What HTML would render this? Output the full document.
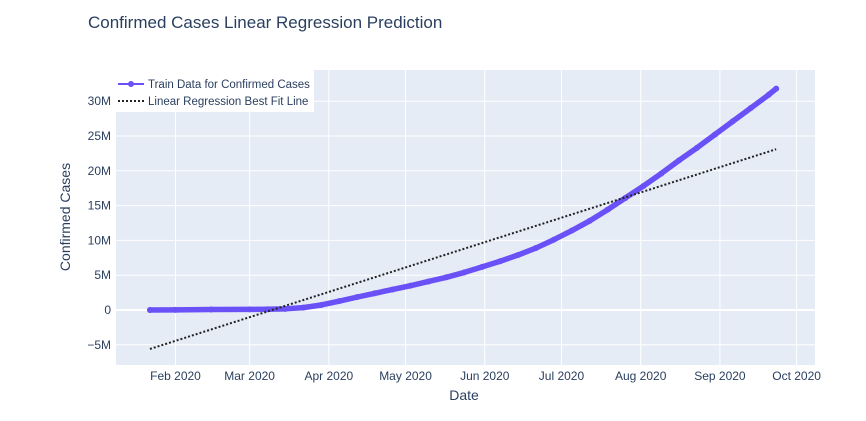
<!DOCTYPE html>
<html><head><meta charset="utf-8"><style>
body{margin:0;background:#fff;font-family:"Liberation Sans",sans-serif}
svg text{font-family:"Liberation Sans",sans-serif;fill:#2a3f5f}
</style></head><body>
<svg id="chart" width="866" height="416">
<text x="88" y="28" font-size="17">Confirmed Cases Linear Regression Prediction</text>
<rect x="116" y="70" width="699" height="295" fill="#e5ecf6"/>
<g id="grid"></g><g id="marks"></g>
<text x="464" y="400" font-size="14" text-anchor="middle">Date</text>
<text transform="translate(70,217) rotate(-90)" font-size="14" text-anchor="middle">Confirmed Cases</text>
<g>
<rect x="116" y="70" width="198" height="42" fill="#fff"/>
<line x1="118" y1="84" x2="144" y2="84" stroke="#6a50f7" stroke-width="2"/>
<circle cx="131" cy="84" r="3" fill="#6a50f7"/>
<text x="148" y="88" font-size="11.5">Train Data for Confirmed Cases</text>
<line x1="118" y1="101" x2="144" y2="101" stroke="#222" stroke-width="2" stroke-dasharray="2,2"/>
<text x="148" y="105" font-size="11.5">Linear Regression Best Fit Line</text>
</g>
</svg>
<script>
const trainDates=["2020-01-22","2020-02-01","2020-02-15","2020-03-01","2020-03-08","2020-03-15","2020-03-22","2020-03-29","2020-04-05","2020-04-12","2020-04-19","2020-04-26","2020-05-03","2020-05-10","2020-05-17","2020-05-24","2020-05-31","2020-06-07","2020-06-14","2020-06-21","2020-06-28","2020-07-05","2020-07-12","2020-07-19","2020-07-26","2020-08-02","2020-08-09","2020-08-16","2020-08-23","2020-08-30","2020-09-06","2020-09-13","2020-09-20","2020-09-23"];
const trainValues=[0.0005,0.012,0.069,0.088,0.11,0.17,0.34,0.72,1.27,1.85,2.4,2.95,3.5,4.1,4.7,5.4,6.2,7.0,7.9,8.9,10.1,11.4,12.8,14.4,16.1,17.8,19.6,21.5,23.3,25.2,27.1,29.0,30.9,31.8];
const fitDates=["2020-01-22","2020-09-23"];
const fitValues=[-5.6,23.1];
const yTicks=[-5,0,5,10,15,20,25,30];
const xTickDates=["2020-02-01","2020-03-01","2020-04-01","2020-05-01","2020-06-01","2020-07-01","2020-08-01","2020-09-01","2020-10-01"];
const xTickLabels=["Feb 2020","Mar 2020","Apr 2020","May 2020","Jun 2020","Jul 2020","Aug 2020","Sep 2020","Oct 2020"];
const NS="http://www.w3.org/2000/svg";
const d0=Date.UTC(2020,1,1);
function xs(s){const t=Date.parse(s+"T00:00:00Z");return 175.5+(t-d0)/864e5*2.556;}
function ys(v){return 310-v*6.96;}
function mk(tag,attrs,parent){const e=document.createElementNS(NS,tag);for(const k in attrs)e.setAttribute(k,attrs[k]);parent.appendChild(e);return e;}
const grid=document.getElementById('grid'),marks=document.getElementById('marks');
yTicks.forEach(v=>{
 const l=mk('line',{x1:116,x2:815,y1:ys(v),y2:ys(v),stroke:'#fff','stroke-width':v===0?2:1},grid);
 
 
 const t=mk('text',{x:111,y:ys(v)+4,'font-size':12,'text-anchor':'end'},grid);
 t.textContent=(v<0?'−'+(-v):v)+(v===0?'':'M');
 
 
});
xTickDates.forEach((d,i)=>{
 const l=mk('line',{x1:xs(d),x2:xs(d),y1:70,y2:365,stroke:'#fff','stroke-width':1},grid);
 
 
 const t=mk('text',{x:xs(d),y:380,'font-size':12,'text-anchor':'middle'},grid);
 t.textContent=xTickLabels[i];
 
 
});
const tp=mk('polyline',{points:trainDates.map((d,i)=>xs(d)+','+ys(trainValues[i])).join(' '),fill:'none',stroke:'#6a50f7','stroke-width':5.5,'stroke-linejoin':'round','stroke-linecap':'round'},marks);


trainDates.forEach((d,i)=>{
 const c=mk('circle',{cx:xs(d),cy:ys(trainValues[i]),r:3,fill:'#6a50f7'},marks);
 
 
});
const fp=mk('polyline',{points:fitDates.map((d,i)=>xs(d)+','+ys(fitValues[i])).join(' '),fill:'none',stroke:'#222','stroke-width':2,'stroke-dasharray':'2,2'},marks);


</script>
</body></html>
